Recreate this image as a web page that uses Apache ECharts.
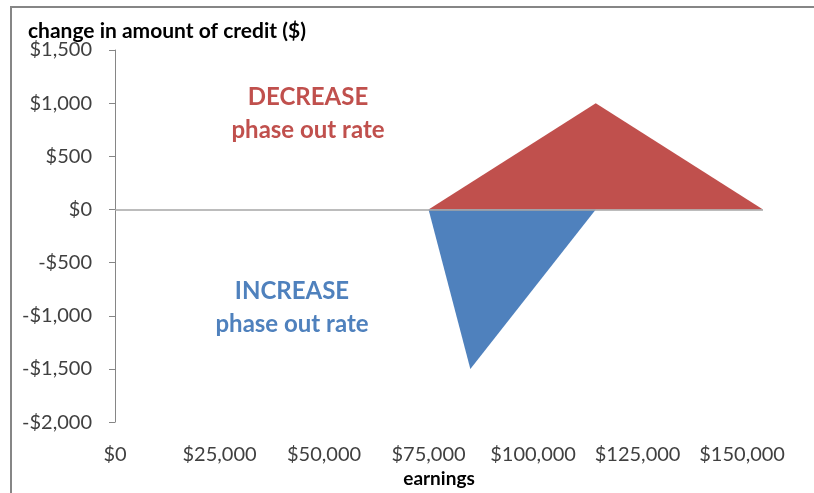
<!DOCTYPE html>
<html>
<head>
<meta charset="utf-8">
<script src="https://cdn.jsdelivr.net/npm/echarts@6/dist/echarts.min.js"></script>
<style>
  html, body { margin: 0; padding: 0; background: #fff; }
  #myChart { width: 814px; height: 493px; }
</style>
</head>
<body>
<div id="myChart"></div>
<script>
// earnings ($) and change in credit ($)
const decreaseEarnings = [75000, 115000, 155000];
const decreaseChange = [0, 1000, 0];
const increaseEarnings = [75000, 85000, 115000];
const increaseChange = [0, -1500, 0];

const xTicks = [0, 25000, 50000, 75000, 100000, 125000, 150000];
const yTicks = [-2000, -1500, -1000, -500, 0, 500, 1000, 1500];

const red = '#C0504D';
const blue = '#4F81BD';
const fontFamily = 'Lato, "Open Sans", sans-serif';

function money(v) {
  const s = '$' + Math.abs(v).toLocaleString('en-US');
  return v < 0 ? '-' + s : s;
}

function pairs(xs, ys) {
  return xs.map((x, i) => [x, ys[i]]);
}

const option = {
  animation: false,
  backgroundColor: '#fff',
  textStyle: { fontFamily: fontFamily },
  title: {
    text: 'change in amount of credit ($)',
    left: 28,
    top: 21,
    padding: 0,
    textStyle: { fontSize: 21, fontWeight: 'bold', color: '#000', fontFamily: fontFamily }
  },
  graphic: [
    {
      type: 'rect',
      shape: { x: 11, y: 7, width: 900, height: 600 },
      style: { fill: 'none', stroke: '#868686', lineWidth: 2 },
      silent: true
    },
    {
      type: 'text',
      x: 308, y: 114,
      style: {
        text: 'DECREASE\nphase out rate',
        fill: red, font: 'bold 24px ' + fontFamily,
        align: 'center', verticalAlign: 'middle', lineHeight: 33
      }
    },
    {
      type: 'text',
      x: 292, y: 308,
      style: {
        text: 'INCREASE\nphase out rate',
        fill: blue, font: 'bold 24px ' + fontFamily,
        align: 'center', verticalAlign: 'middle', lineHeight: 33
      }
    }
  ],
  grid: { left: 115, right: 51, top: 50, bottom: 69, containLabel: false },
  xAxis: {
    type: 'value',
    min: 0,
    max: 155000,
    interval: 25000,
    name: 'earnings',
    nameLocation: 'middle',
    nameGap: 44,
    nameTextStyle: { fontSize: 19, fontWeight: 'bold', color: '#000' },
    axisLine: { show: false, onZero: false },
    axisTick: { show: false },
    splitLine: { show: false },
    axisLabel: {
      fontSize: 20,
      color: '#404040',
      margin: 22,
      showMaxLabel: false,
      formatter: v => (xTicks.indexOf(v) >= 0 ? money(v) : '')
    }
  },
  yAxis: {
    type: 'value',
    min: -2000,
    max: 1500,
    interval: 500,
    axisLine: { show: true, onZero: false, lineStyle: { color: '#868686', width: 1 } },
    axisTick: { show: true, inside: false, length: 6, lineStyle: { color: '#868686' } },
    splitLine: { show: false },
    axisLabel: {
      fontSize: 20,
      color: '#404040',
      margin: 23,
      formatter: v => (yTicks.indexOf(v) >= 0 ? money(v) : '')
    }
  },
  series: [
    {
      name: 'decrease',
      type: 'line',
      data: pairs(decreaseEarnings, decreaseChange),
      symbol: 'none',
      lineStyle: { width: 0, color: red },
      areaStyle: { color: red, opacity: 1, origin: 0 },
      z: 2,
      markLine: {
        silent: true,
        symbol: 'none',
        label: { show: false },
        lineStyle: { color: '#A6A6A6', type: 'solid', width: 1.5 },
        data: [{ yAxis: 0 }]
      }
    },
    {
      name: 'increase',
      type: 'line',
      data: pairs(increaseEarnings, increaseChange),
      symbol: 'none',
      lineStyle: { width: 0, color: blue },
      areaStyle: { color: blue, opacity: 1, origin: 0 },
      z: 3
    }
  ]
};

const myChart = echarts.init(document.getElementById('myChart'));
myChart.setOption(option, true);
</script>
</body>
</html>
